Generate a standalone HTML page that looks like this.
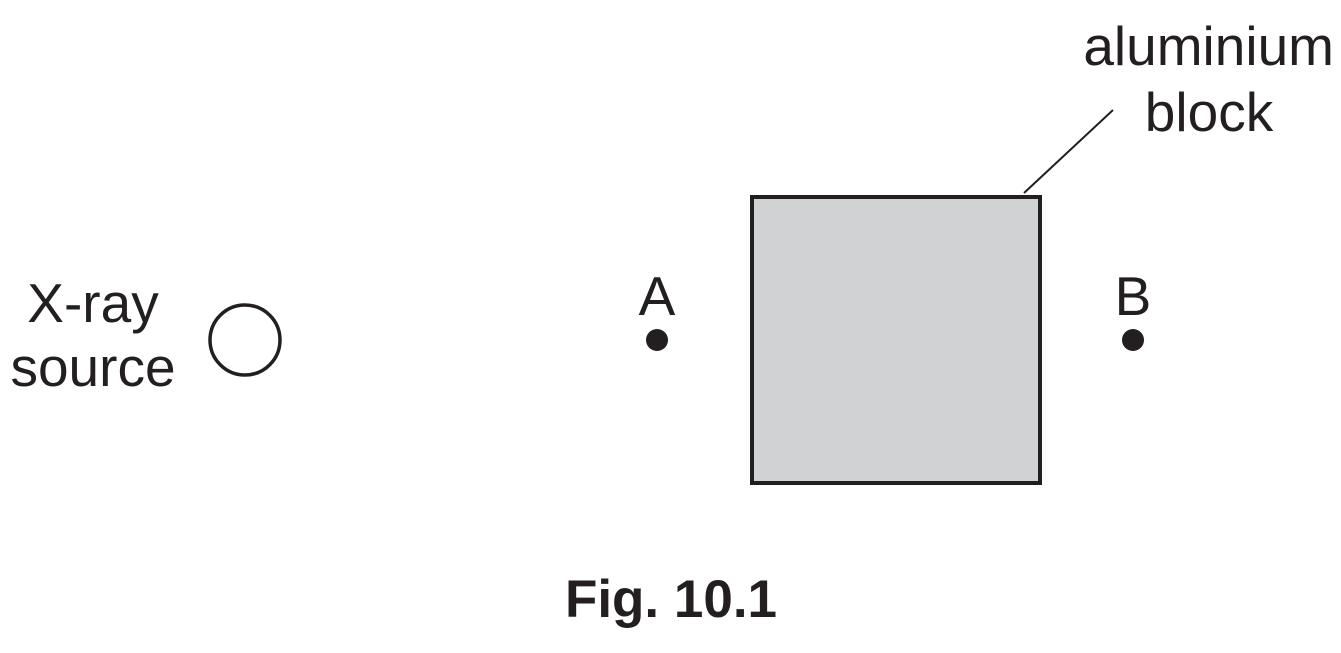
<!DOCTYPE html>
<html><head><meta charset="utf-8"><style>
html,body{margin:0;padding:0;background:#fff;}
svg{display:block;}
text{font-family:"Liberation Sans",Arial,sans-serif;fill:#231f20;}
</style></head><body>
<svg width="1341" height="653" viewBox="0 0 1341 653">
<text x="93" y="322" font-size="55" text-anchor="middle">X-ray</text>
<text x="93" y="386" font-size="55" text-anchor="middle">source</text>
<circle cx="245" cy="340" r="35" fill="none" stroke="#231f20" stroke-width="3.5"/>
<text x="657" y="315" font-size="55" text-anchor="middle">A</text>
<circle cx="657" cy="340" r="11" fill="#231f20"/>
<rect x="752" y="197" width="288" height="286" fill="#d1d2d4" stroke="#231f20" stroke-width="4"/>
<text x="1133" y="315" font-size="55" text-anchor="middle">B</text>
<circle cx="1133" cy="340" r="11" fill="#231f20"/>
<line x1="1024" y1="193" x2="1113" y2="110" stroke="#231f20" stroke-width="2"/>
<text x="1334" y="65" font-size="55" text-anchor="end">aluminium</text>
<text x="1209" y="131" font-size="55" text-anchor="middle">block</text>
<text x="671" y="617" font-size="53" font-weight="bold" text-anchor="middle">Fig. 10.1</text>
</svg>
</body></html>
